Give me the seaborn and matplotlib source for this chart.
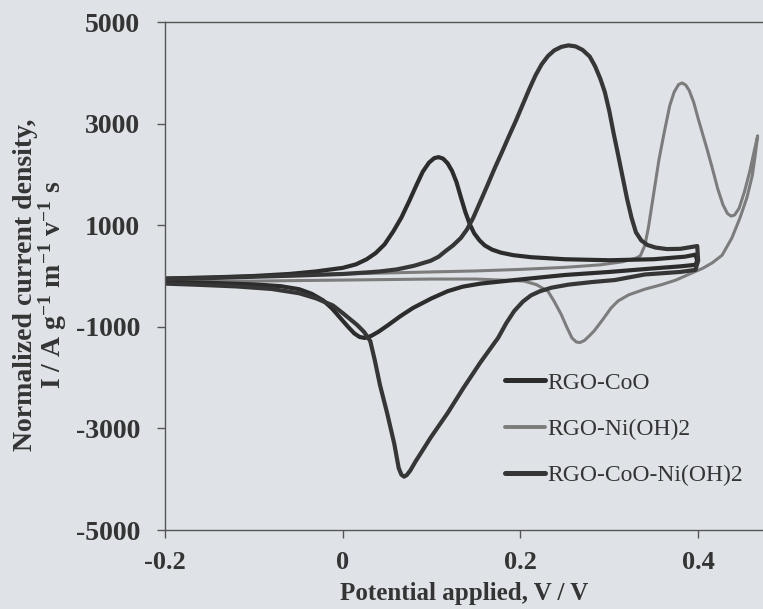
import numpy as np
import pandas as pd
import matplotlib
matplotlib.use("Agg")
import matplotlib.pyplot as plt
import seaborn as sns

# ---- cyclic voltammograms: potential (V) and normalized current density ----
# RGO-CoO: forward sweep, vertex, reverse sweep
E_coo = [-0.200, -0.150, -0.100, -0.060, -0.030, 0.000, 0.015, 0.027, 0.037, 0.047,
         0.057, 0.066, 0.075, 0.083, 0.090, 0.097, 0.103, 0.108, 0.113, 0.118,
         0.123, 0.128, 0.133, 0.138, 0.143, 0.148, 0.154, 0.160, 0.168, 0.178,
         0.192, 0.212, 0.250, 0.300, 0.350, 0.385, 0.397,
         0.399, 0.397,
         0.380, 0.350, 0.300, 0.250, 0.193, 0.155, 0.135, 0.118, 0.100, 0.079,
         0.065, 0.050, 0.040, 0.032, 0.025, 0.019, 0.013, 0.006, -0.003, -0.012,
         -0.022, -0.035, -0.049, -0.070, -0.100, -0.150, -0.200]
I_coo = [-50, -30, 0, 40, 90, 160, 230, 330, 450, 620,
         880, 1150, 1480, 1790, 2050, 2230, 2320, 2340, 2310, 2220,
         2070, 1850, 1550, 1260, 1020, 840, 700, 600, 520, 460,
         410, 370, 330, 310, 330, 380, 420,
         300, 220,
         190, 150, 80, 20, -80, -150, -210, -300, -440, -630,
         -790, -980, -1100, -1180, -1220, -1200, -1130, -1000, -820, -640,
         -480, -350, -260, -200, -165, -135, -120]

# RGO-Ni(OH)2
E_ni = [-0.200, -0.150, -0.100, -0.050, 0.000, 0.050, 0.100, 0.150, 0.200, 0.250,
        0.290, 0.315, 0.330, 0.335, 0.340, 0.344, 0.348, 0.352, 0.356, 0.362,
        0.368, 0.373, 0.378, 0.382, 0.386, 0.390, 0.395, 0.400, 0.405, 0.410,
        0.416, 0.422, 0.428, 0.433, 0.437, 0.441, 0.446, 0.452, 0.458, 0.463,
        0.467,
        0.464, 0.461, 0.455, 0.447, 0.438, 0.427, 0.416, 0.405, 0.393, 0.375,
        0.359, 0.340, 0.322, 0.310, 0.302, 0.293, 0.283, 0.278, 0.272, 0.267,
        0.263, 0.258, 0.252, 0.246, 0.238, 0.231, 0.218, 0.204, 0.150, 0.100,
        0.050, 0.000, -0.100, -0.200]
I_ni = [-40, -20, 0, 20, 40, 60, 80, 100, 130, 170,
        220, 280, 350, 400, 600, 950, 1400, 1850, 2300, 2840,
        3350, 3620, 3770, 3800, 3760, 3650, 3420, 3100, 2800, 2500,
        2120, 1720, 1400, 1230, 1180, 1200, 1330, 1650, 2050, 2450,
        2760,
        2350, 1980, 1550, 1140, 750, 410, 260, 150, 60, -80,
        -170, -260, -370, -490, -630, -850, -1080, -1170, -1270, -1310,
        -1300, -1220, -1000, -760, -500, -300, -170, -100, -60, -60,
        -70, -80, -100, -110]

# RGO-CoO-Ni(OH)2
E_mix = [-0.200, -0.150, -0.100, -0.050, 0.000, 0.027, 0.042, 0.061, 0.080, 0.099,
         0.108, 0.115, 0.124, 0.133, 0.140, 0.147, 0.154, 0.162, 0.171, 0.179,
         0.187, 0.195, 0.202, 0.210, 0.217, 0.224, 0.231, 0.238, 0.246, 0.254,
         0.262, 0.270, 0.278, 0.284, 0.290, 0.295, 0.300, 0.305, 0.310, 0.315,
         0.320, 0.325, 0.330, 0.336, 0.343, 0.352, 0.365, 0.380, 0.399,
         0.400, 0.397,
         0.380, 0.340, 0.306, 0.280, 0.254, 0.235, 0.222, 0.212, 0.203, 0.193,
         0.184, 0.175, 0.155, 0.136, 0.118, 0.099, 0.090, 0.082, 0.076, 0.072,
         0.069, 0.066, 0.063, 0.058, 0.050, 0.042, 0.036, 0.031, 0.024, 0.016,
         0.000, -0.011, -0.030, -0.049, -0.080, -0.120, -0.160, -0.200]
I_mix = [-60, -40, -15, 10, 40, 70, 90, 130, 200, 300,
         380, 480, 600, 750, 920, 1150, 1430, 1750, 2120, 2430,
         2750, 3060, 3350, 3680, 3950, 4170, 4330, 4440, 4510, 4540,
         4520, 4450, 4320, 4130, 3880, 3620, 3250, 2800, 2380, 1950,
         1520, 1150, 860, 700, 610, 560, 530, 535, 590,
         300, 120,
         80, 30, -80, -120, -170, -230, -300, -380, -500, -690,
         -930, -1215, -1700, -2200, -2700, -3180, -3430, -3650, -3830, -3920,
         -3950, -3910, -3780, -3300, -2700, -2150, -1650, -1280, -1100, -960,
         -730, -580, -440, -340, -255, -205, -175, -150]

labels = ["RGO-CoO", "RGO-Ni(OH)2", "RGO-CoO-Ni(OH)2"]
colors = {"RGO-CoO": "#2c2c2c", "RGO-Ni(OH)2": "#7c7c7c", "RGO-CoO-Ni(OH)2": "#363636"}
widths = {"RGO-CoO": 3.0, "RGO-Ni(OH)2": 2.2, "RGO-CoO-Ni(OH)2": 3.0}

frames = []
for name, e, i in zip(labels, [E_coo, E_ni, E_mix], [I_coo, I_ni, I_mix]):
    frames.append(pd.DataFrame({"E": e, "I": i, "sample": name,
                                "step": np.arange(len(e))}))
df = pd.concat(frames, ignore_index=True)

sns.set_theme(style="white")
plt.rcParams["font.family"] = ["Liberation Serif", "DejaVu Serif"]
plt.rcParams["mathtext.fontset"] = "custom"
plt.rcParams["mathtext.rm"] = "Liberation Serif:bold"
plt.rcParams["mathtext.it"] = "Liberation Serif:bold"
plt.rcParams["mathtext.bf"] = "Liberation Serif:bold"

bg = "#dfe3e7"
txt = "#343434"
fig = plt.figure(figsize=(7.63, 6.09), dpi=100, facecolor=bg)
ax = fig.add_axes([165 / 763, 1 - 530 / 609, 1 - 165 / 763, (530 - 22) / 609])
ax.set_facecolor(bg)

# grey trace first so the darker traces sit on top
for name in ["RGO-Ni(OH)2", "RGO-CoO", "RGO-CoO-Ni(OH)2"]:
    sub = df[df["sample"] == name]
    sns.lineplot(data=sub, x="E", y="I", sort=False, estimator=None, ax=ax,
                 color=colors[name], linewidth=widths[name], label=name,
                 solid_joinstyle="round", solid_capstyle="round")

ax.set_xlim(-0.2, 0.473)
ax.set_ylim(-5000, 5000)

x_ticks = [-0.2, 0.0, 0.2, 0.4]
x_ticklabels = ["-0.2", "0", "0.2", "0.4"]
y_ticks = [-5000, -3000, -1000, 1000, 3000, 5000]
y_ticklabels = ["-5000", "-3000", "-1000", "1000", "3000", "5000"]
ax.set_xticks(x_ticks)
ax.set_xticklabels(x_ticklabels, fontsize=19, fontweight="bold", color=txt)
ax.set_yticks(y_ticks)
ax.set_yticklabels(y_ticklabels, fontsize=20, fontweight="bold", color=txt)
ax.tick_params(axis="both", direction="out", length=6, width=1.0, color="#555555")
ax.tick_params(axis="x", pad=9, bottom=True)
ax.tick_params(axis="y", pad=12, left=True)

for side in ["left", "bottom", "top"]:
    ax.spines[side].set_visible(True)
    ax.spines[side].set_color("#555555")
    ax.spines[side].set_linewidth(1.0)
ax.spines["right"].set_visible(False)

ax.set_xlabel("Potential applied, V / V", fontsize=18, fontweight="bold",
              color=txt, labelpad=6)
ax.set_ylabel("")
fig.text(41 / 763, 1 - 285 / 609,
         "Normalized current density,\nI / A g$^{-1}$ m$^{-1}$ v$^{-1}$ s",
         rotation=90, ha="center", va="center", fontsize=20, fontweight="bold",
         color=txt, linespacing=0.95, multialignment="center")

handles, lbls = ax.get_legend_handles_labels()
order = [lbls.index(n) for n in labels]
leg = ax.legend([handles[k] for k in order], [lbls[k] for k in order],
                loc="upper left", bbox_to_anchor=(505 / 763, 1 - 372 / 609),
                bbox_transform=fig.transFigure, frameon=False, fontsize=17,
                handlelength=1.7, handletextpad=0.1, labelspacing=1.05,
                borderpad=0, borderaxespad=0)
for t in leg.get_texts():
    t.set_color(txt)
for h, n in zip(leg.get_lines(), labels):
    h.set_linewidth(widths[n] + 0.6)

fig.savefig("out.png", dpi=100, facecolor=bg)
